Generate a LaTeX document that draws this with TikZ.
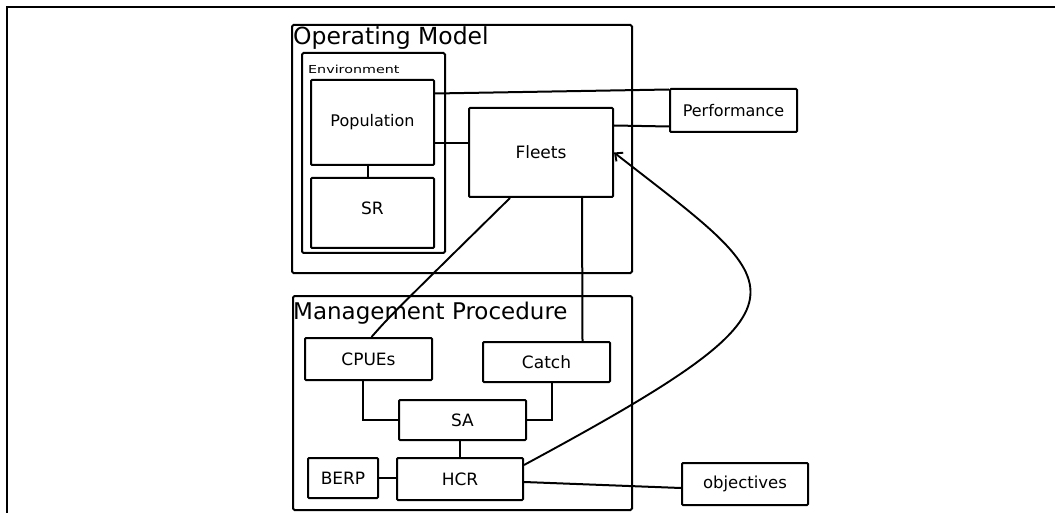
\documentclass[tikz,border=0pt]{standalone}
\usepackage{fontspec}
\setmainfont{DejaVu Sans}
\usetikzlibrary{arrows.meta,calc}
\begin{document}
\begin{tikzpicture}[x=1pt,y=-1pt,
  box/.style={draw,line width=2pt,rounded corners=1pt,inner sep=0pt,align=center,font=\fontsize{17}{19}\selectfont},
  cont/.style={draw,line width=2pt,rounded corners=1.5pt,inner sep=0pt},
  ttl/.style={anchor=west,inner sep=0pt},
  conn/.style={line width=2pt},
  curv/.style={line width=1.9pt}]
\useasboundingbox (0,0) rectangle (1055,513);
% frame
\draw[line width=2.8pt] (7,513) coordinate (fl) -- (7,7) coordinate (fc) -- (1055,7) coordinate (fr);
% containers
\node[cont,minimum width=340pt,minimum height=248pt] (om) at (462,149) {};
\node[cont,minimum width=143pt,minimum height=200pt] (env) at (373.5,153) {};
\node[cont,minimum width=339pt,minimum height=214pt] (mp) at (462.5,403) {};
\node[ttl,font=\fontsize{23.5}{26}\selectfont] (omt) at (293,38.5) {Operating Model};
\node[ttl,font=\fontsize{11}{12}\selectfont] (envt) at (308,69) {\scalebox{1.3}[1]{Environment}};
\node[ttl,font=\fontsize{23}{26}\selectfont] (mpt) at (293,313) {Management Procedure};
% boxes
\node[box,minimum width=123pt,minimum height=85pt,font=\fontsize{16}{18}\selectfont] (pop) at (372.5,122.5) {Population};
\node[box,minimum width=123pt,minimum height=70pt,text depth=10pt] (sr) at (372.5,213) {SR};
\node[box,minimum width=144pt,minimum height=89pt] (fleets) at (541,152.5) {Fleets};
\node[box,minimum width=127pt,minimum height=43pt,font=\fontsize{16}{18}\selectfont] (perf) at (733.5,110.5) {Performance};
\node[box,minimum width=127pt,minimum height=42pt] (cpue) at (368.5,359) {CPUEs};
\node[box,minimum width=127pt,minimum height=40pt] (catch) at (546.5,362) {Catch};
\node[box,minimum width=127pt,minimum height=40pt] (sa) at (462.5,420) {SA};
\node[box,minimum width=126pt,minimum height=42pt] (hcr) at (460,479) {HCR};
\node[box,minimum width=70pt,minimum height=40pt] (berp) at (343,478) {BERP};
\node[box,minimum width=126pt,minimum height=42pt,font=\fontsize{16.5}{18}\selectfont] (obj) at (745,484) {objectives};
% connectors
\draw[conn] ([xshift=-4.5pt]pop.south) -- ([xshift=-4.5pt]pop.south |- sr.north);
\draw[conn] ([yshift=-20.5pt]pop.east) -- ([yshift=-20.5pt]pop.east -| fleets.west);
\draw[conn] ([yshift=29pt]pop.east) -- ([yshift=21pt]perf.west);
\draw[conn] ([yshift=27pt]fleets.east) -- ([yshift=-16pt]perf.west);
\draw[curv] ([xshift=-31pt]fleets.south) .. controls (390,316) .. ([xshift=3pt]cpue.north);
\draw[conn] ([xshift=41pt]fleets.south) -- ([xshift=36pt]catch.north);
\draw[conn] ([xshift=-5.5pt]cpue.south) |- (sa.west);
\draw[conn] ([xshift=5.5pt]catch.south) |- (sa.east);
\draw[conn] ([xshift=-2.5pt]sa.south) -- ([xshift=-2.5pt]sa.south |- hcr.north);
\draw[conn] (berp.east) -- (berp.east -| hcr.west);
\draw[conn] ([yshift=-3pt]hcr.east) -- ([yshift=-4pt]obj.west);
\draw[curv,-{Straight Barb[length=6pt,width=11pt]}] ([yshift=14pt]hcr.east) .. controls (830,300) and (790,290) .. (fleets.east);
\end{tikzpicture}
\end{document}
